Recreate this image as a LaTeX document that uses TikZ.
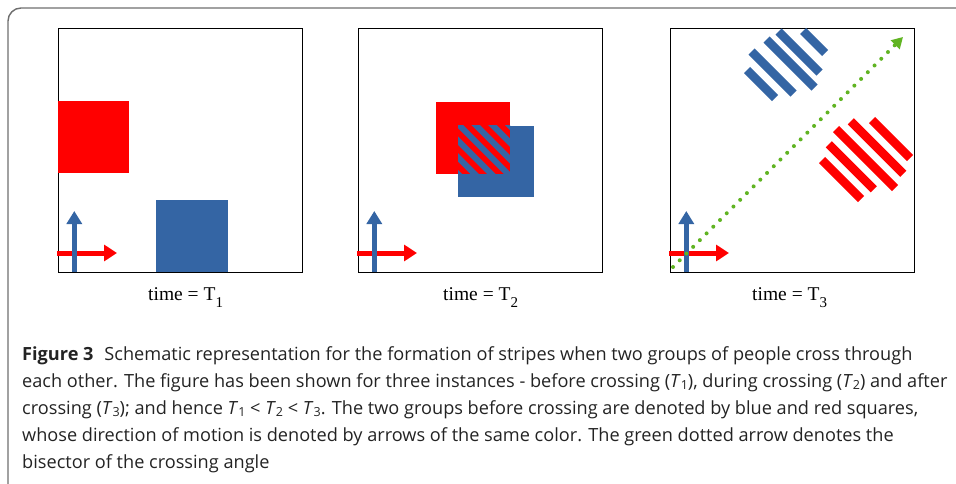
\documentclass[tikz,border=0pt]{standalone}
\usepackage{fontspec}
\setmainfont{Liberation Serif}
\newfontfamily\capfont{Open Sans}
\usetikzlibrary{arrows.meta}

\definecolor{grpred}{RGB}{255,0,0}
\definecolor{grpblue}{RGB}{52,101,164}
\definecolor{bisect}{RGB}{96,180,34}
\definecolor{framegray}{RGB}{110,110,110}
\definecolor{captext}{RGB}{35,35,35}

% subscripted time symbols
\newcommand{\timelabel}[1]{time = T{\fontsize{15}{15}\selectfont\raisebox{-7pt}{#1}}}
\newcommand{\capT}[1]{\textit{T}{\fontsize{12.5}{13}\selectfont\raisebox{-2.8pt}{#1}}}

\begin{document}
\begin{tikzpicture}[x=1pt,y=-1pt,
  panelbox/.style={draw=black,line width=0.9pt,fill=white},
  redsq/.style={fill=grpred,draw=none},
  bluesq/.style={fill=grpblue,draw=none},
  bluemove/.style={draw=grpblue,line width=4.5pt,-{Triangle[length=13pt,width=15pt]}},
  redmove/.style={draw=grpred,line width=5pt,-{Triangle[length=13pt,width=16pt]}},
  bluebar/.style={draw=grpblue,line width=8.5pt},
  redbar/.style={draw=grpred,line width=8.5pt},
  timetext/.style={font=\fontsize{19.5}{20}\selectfont,anchor=base west,inner sep=0pt},
  captionline/.style={font=\capfont\fontsize{18.15}{19}\selectfont,text=captext,anchor=base west,inner sep=0pt},
]
\useasboundingbox (0,0) rectangle (956,484);
\clip (0,0) rectangle (956,484);

% outer frame of the figure
\draw[framegray,line width=1.4pt,rounded corners=13pt] (8,8) rectangle (990,497);

% the three panels
\foreach \L/\nm in {58/a,358/b,670/c}{
  \node[panelbox,minimum width=244pt,minimum height=244pt,inner sep=0pt,anchor=north west] (panel-\nm) at (\L,28) {};
}

% T1: groups before crossing
\fill[redsq] (58,101) rectangle (129,173);
\fill[bluesq] (156,200) rectangle (228,272);

% T2: groups overlapping, stripes in the overlap
\fill[redsq] (436,102) rectangle (510,174);
\fill[bluesq] (458,126) rectangle (534,197);
\begin{scope}
  \clip (458,126) rectangle (510,174);
  \fill[grpred] (458,126) rectangle (510,174);
  \foreach \k in {283.9,300.6,317.3,334,350.7,367.4,384.1}{
    \draw[grpblue,line width=6pt] (\k+100,100) -- (\k+200,200);
  }
\end{scope}

% T3: groups separated into stripes
\foreach \ax/\ay/\bx/\by in {747/70/775/98, 751.5/51.5/793.5/93.5, 766.5/39.5/814.5/87.5, 778.5/31.5/819.5/72.5, 803/31/825/53}{
  \draw[bluebar] (\ax,\ay) -- (\bx,\by);
}
\foreach \ax/\ay/\bx/\by in {822/160/861/199, 828.75/144.25/873.75/189.25, 836/129/895/188, 850.75/121.25/903.25/173.75, 872/120/910/158}{
  \draw[redbar] (\ax,\ay) -- (\bx,\by);
}

% direction arrows of both groups in every panel
\foreach \L/\nm in {58/a,358/b,670/c}{
  \coordinate (rs-\nm) at (\L-1,253);
  \coordinate (rt-\nm) at (\L+59,253);
  \coordinate (bs-\nm) at (\L+16.3,272);
  \coordinate (bt-\nm) at (\L+16.3,211);
  \draw[redmove] (rs-\nm) -- (rt-\nm);
  \draw[bluemove] (bs-\nm) -- (bt-\nm);
}

% bisector of the crossing angle
\coordinate (bis-start) at (673,267);
\coordinate (bis-end) at (903,37);
\draw[bisect,line width=4pt,line cap=round,dash pattern=on 0pt off 9.5pt,
      -{Triangle[length=11pt,width=12pt]}] (bis-start) -- (bis-end);

% time labels
\node[timetext] (t1) at (148,300) {\timelabel{1}};
\node[timetext] (t2) at (443,300) {\timelabel{2}};
\node[timetext] (t3) at (752,300) {\timelabel{3}};

% caption
\node[captionline] (cap1) at (22,360) {\textbf{Figure 3}\hspace{0.6em}Schematic representation for the formation of stripes when two groups of people cross through};
\node[captionline] (cap2) at (22,387) {each other. The figure has been shown for three instances - before crossing (\capT{1}), during crossing (\capT{2}) and after};
\node[captionline] (cap3) at (22,414) {crossing (\capT{3}); and hence \capT{1} < \capT{2} < \capT{3}. The two groups before crossing are denoted by blue and red squares,};
\node[captionline] (cap4) at (22,441) {whose direction of motion is denoted by arrows of the same color. The green dotted arrow denotes the};
\node[captionline] (cap5) at (22,468) {bisector of the crossing angle};
\end{tikzpicture}
\end{document}
